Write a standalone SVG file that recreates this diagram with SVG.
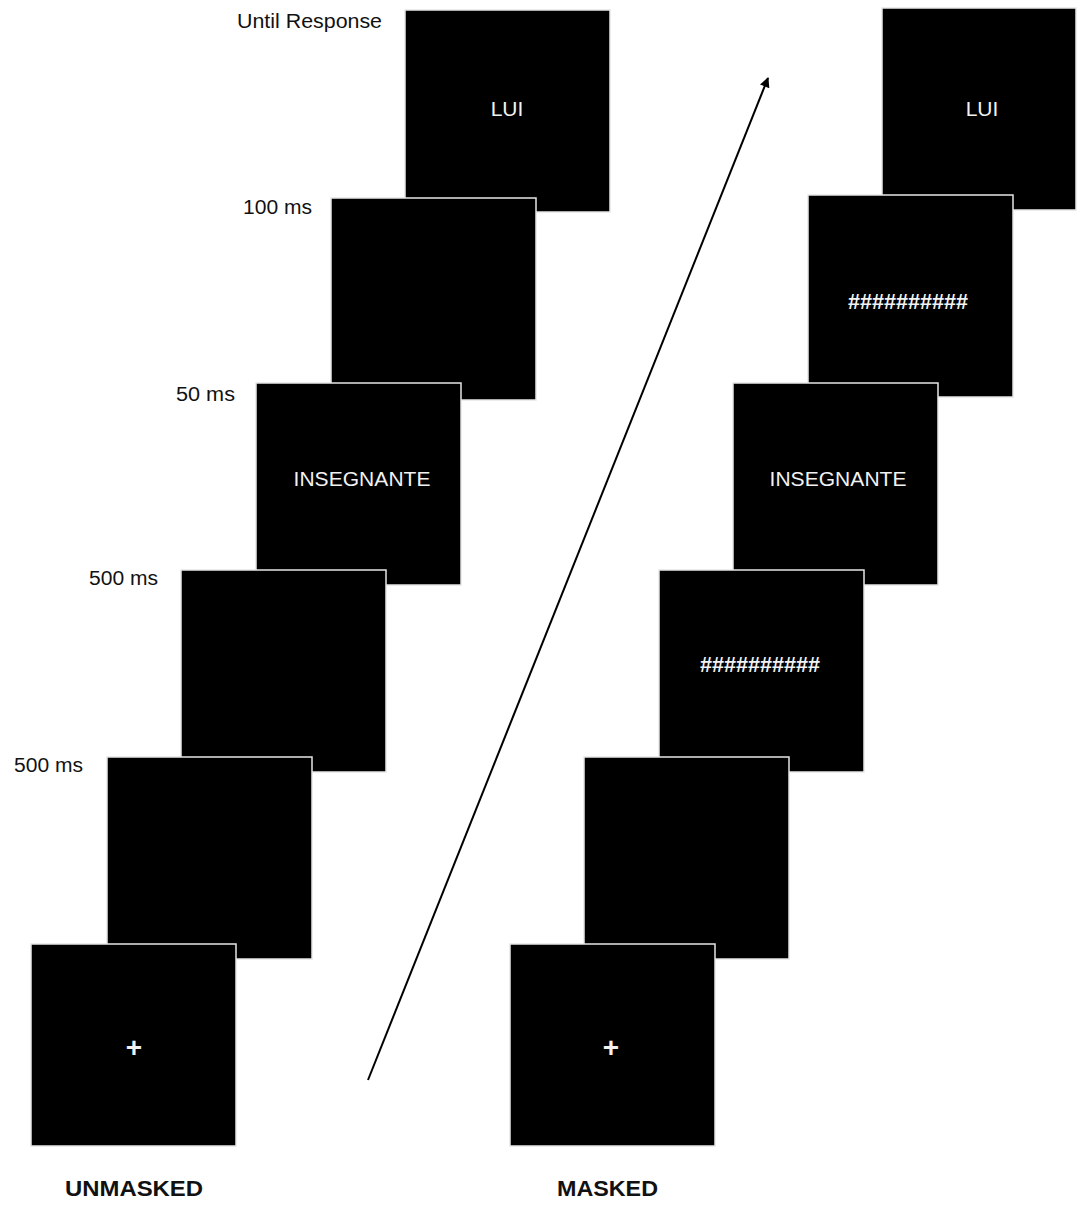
<svg xmlns="http://www.w3.org/2000/svg" width="1077" height="1205" viewBox="0 0 1077 1205">
<style>
.box{fill:#000;stroke:#e6e6e6;stroke-width:1.5}
.lbl{font-family:"Liberation Sans",Arial,sans-serif;font-size:20px;fill:#111}
.in{font-family:"Liberation Sans",Arial,sans-serif;font-size:21px;fill:#f2f2f2;text-anchor:middle}
.hash{font-family:"Liberation Sans",Arial,sans-serif;font-size:22px;font-weight:bold;fill:#f2f2f2;text-anchor:middle}
.plus{font-family:"Liberation Sans",Arial,sans-serif;font-size:28px;font-weight:bold;fill:#f2f2f2;text-anchor:middle}
.ttl{font-family:"Liberation Sans",Arial,sans-serif;font-size:22px;font-weight:bold;fill:#111}
</style>
<defs>
<marker id="ah" viewBox="0 0 10 10" refX="9" refY="5" markerWidth="6" markerHeight="5" orient="auto" markerUnits="strokeWidth">
<path d="M0,0 L10,5 L0,10 z" fill="#000"/>
</marker>
</defs>
<rect width="1077" height="1205" fill="#fff"/>

<g id="left-column">
<g id="L-lui"><rect class="box" x="405" y="10" width="205" height="202"/><text class="in" x="507" y="116">LUI</text></g>
<g id="L-blank100"><rect class="box" x="331" y="198" width="205" height="202"/></g>
<g id="L-word"><rect class="box" x="256" y="383" width="205" height="202"/><text class="in" x="362" y="486" textLength="137">INSEGNANTE</text></g>
<g id="L-blank500a"><rect class="box" x="181" y="570" width="205" height="202"/></g>
<g id="L-blank500b"><rect class="box" x="107" y="757" width="205" height="202"/></g>
<g id="L-fix"><rect class="box" x="31" y="944" width="205" height="202"/><text class="plus" x="134" y="1057">+</text></g>
</g>

<g id="right-column">
<g id="R-lui"><rect class="box" x="882" y="8" width="194" height="202"/><text class="in" x="982" y="116">LUI</text></g>
<g id="R-mask2"><rect class="box" x="808" y="195" width="205" height="202"/><text class="hash" x="908" y="309" textLength="120" lengthAdjust="spacingAndGlyphs">##########</text></g>
<g id="R-word"><rect class="box" x="733" y="383" width="205" height="202"/><text class="in" x="838" y="486" textLength="137">INSEGNANTE</text></g>
<g id="R-mask1"><rect class="box" x="659" y="570" width="205" height="202"/><text class="hash" x="760" y="672" textLength="120" lengthAdjust="spacingAndGlyphs">##########</text></g>
<g id="R-blank"><rect class="box" x="584" y="757" width="205" height="202"/></g>
<g id="R-fix"><rect class="box" x="510" y="944" width="205" height="202"/><text class="plus" x="611" y="1057">+</text></g>
</g>

<g id="labels">
<text class="lbl" x="237" y="28" textLength="145" lengthAdjust="spacingAndGlyphs">Until Response</text>
<text class="lbl" x="243" y="214" textLength="69" lengthAdjust="spacingAndGlyphs">100 ms</text>
<text class="lbl" x="176" y="401" textLength="59" lengthAdjust="spacingAndGlyphs">50 ms</text>
<text class="lbl" x="89" y="585" textLength="69" lengthAdjust="spacingAndGlyphs">500 ms</text>
<text class="lbl" x="14" y="772" textLength="69" lengthAdjust="spacingAndGlyphs">500 ms</text>
<text class="ttl" x="65" y="1196" textLength="138" lengthAdjust="spacingAndGlyphs">UNMASKED</text>
<text class="ttl" x="557" y="1196" textLength="101" lengthAdjust="spacingAndGlyphs">MASKED</text>
</g>

<g id="connectors">
<line x1="368" y1="1080" x2="768" y2="78" stroke="#000" stroke-width="2" marker-end="url(#ah)"/>
</g>
</svg>
